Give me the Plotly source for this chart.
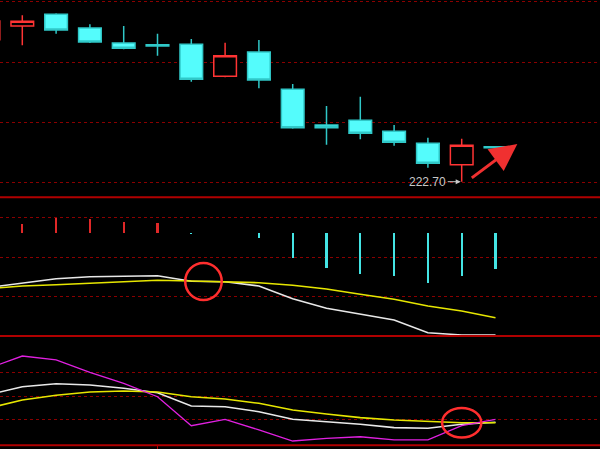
import plotly.graph_objects as go

# ---------------- data ----------------
idx = list(range(16))

open_ = [251.10, 253.84, 256.18, 253.44, 250.44, 250.10, 250.18, 243.78, 248.64, 241.18, 234.04, 234.98, 232.78, 230.38, 226.10, 229.70]
high = [255.40, 255.98, 256.38, 254.18, 253.84, 252.30, 251.24, 250.50, 251.04, 242.24, 237.84, 239.70, 234.04, 231.50, 231.30, 229.70]
low = [250.60, 249.98, 252.30, 250.44, 249.18, 247.90, 242.70, 243.58, 241.38, 233.30, 230.10, 231.18, 229.90, 225.50, 222.70, 228.90]
close = [254.84, 254.78, 253.04, 250.64, 249.38, 249.84, 243.18, 247.90, 243.04, 233.50, 233.50, 232.38, 230.58, 226.38, 229.98, 229.50]

macd_hist = [0.60, 0.88, 1.45, 1.35, 1.05, 0.98, -0.12, -0.01, -0.55, -2.55, -3.55, -4.12, -4.38, -5.02, -4.38, -3.65]
dif = [-5.50, -5.05, -4.62, -4.42, -4.38, -4.32, -4.88, -4.92, -5.35, -6.62, -7.58, -8.18, -8.75, -10.02, -10.25, -10.25]
dea = [-5.61, -5.35, -5.22, -5.08, -4.92, -4.78, -4.85, -4.92, -5.02, -5.28, -5.65, -6.18, -6.68, -7.35, -7.85, -8.52]

k_line = [51.9, 62.2, 66.0, 64.3, 60.2, 54.6, 37.7, 36.8, 30.5, 20.8, 17.8, 14.5, 10.2, 9.4, 14.5, 17.0]
d_line = [35.0, 45.3, 51.3, 55.5, 56.7, 55.5, 49.5, 46.6, 41.1, 32.6, 27.6, 22.9, 19.9, 17.8, 16.5, 16.5]
j_line = [85.6, 101.1, 96.1, 80.4, 66.5, 49.5, 12.7, 20.8, 7.3, -6.7, -3.3, -1.3, -5.4, -5.4, 12.7, 20.8]

price_grid = [258.78, 246.62, 234.58, 222.50]
macd_grid = [1.52, -2.48, -6.42]
kdj_grid = [80, 50, 20]

low_label = "222.70"

# ---------------- styles ----------------
RED = "#ff3434"
CYAN = "#54fcfc"
CYAN_EDGE = "#30c8c8"
GRID = "#8a0000"
SEP = "#b00000"
H = 449.0

fig = go.Figure()

fig.add_trace(go.Candlestick(
    x=idx, open=open_, high=high, low=low, close=close,
    increasing=dict(line=dict(color=RED, width=1.5), fillcolor="#000000"),
    decreasing=dict(line=dict(color=CYAN_EDGE, width=1.5), fillcolor=CYAN),
    xaxis="x", yaxis="y", hoverinfo="skip", showlegend=False,
))

bar_colors = ["#e02828" if v > 0 else "#44e4e4" for v in macd_hist]
fig.add_trace(go.Bar(x=idx, y=macd_hist, width=0.065, marker=dict(color=bar_colors, line=dict(width=0)),
                     xaxis="x", yaxis="y2", showlegend=False, hoverinfo="skip"))
fig.add_trace(go.Scatter(x=idx, y=dif, mode="lines", line=dict(color="#e8e8e8", width=1.6),
                         xaxis="x", yaxis="y2", showlegend=False, hoverinfo="skip"))
fig.add_trace(go.Scatter(x=idx, y=dea, mode="lines", line=dict(color="#e6e600", width=1.6),
                         xaxis="x", yaxis="y2", showlegend=False, hoverinfo="skip"))

fig.add_trace(go.Scatter(x=idx, y=k_line, mode="lines", line=dict(color="#e8e8e8", width=1.6),
                         xaxis="x", yaxis="y3", showlegend=False, hoverinfo="skip"))
fig.add_trace(go.Scatter(x=idx, y=d_line, mode="lines", line=dict(color="#e6e600", width=1.6),
                         xaxis="x", yaxis="y3", showlegend=False, hoverinfo="skip"))
fig.add_trace(go.Scatter(x=idx, y=j_line, mode="lines", line=dict(color="#e020e0", width=1.3),
                         xaxis="x", yaxis="y3", showlegend=False, hoverinfo="skip"))

# pixel geometry: candle i sits at px = X0 + STEP*i
X0, STEP = -11.5, 33.8
x_range = [(0 - X0) / STEP, (600 - X0) / STEP]

def pdom(top_px, bot_px):
    return [1 - bot_px / H, 1 - top_px / H]

def yaxis(dom, rng, ticks):
    return dict(domain=dom, range=rng, tickvals=ticks, showticklabels=False, ticks="",
                showgrid=True, gridcolor=GRID, griddash="dot", gridwidth=1,
                zeroline=False, showline=False, fixedrange=True)

fig.update_layout(
    width=600, height=449,
    margin=dict(l=0, r=0, t=0, b=0),
    paper_bgcolor="#000000", plot_bgcolor="#000000",
    showlegend=False, bargap=0,
    boxgap=0.33, boxgroupgap=0,
    xaxis=dict(range=x_range, showgrid=False, zeroline=False, showticklabels=False, ticks="",
               showline=False, rangeslider=dict(visible=False), anchor="y3", fixedrange=True),
    yaxis=yaxis(pdom(0, 197.3), [219.58, 259.04], price_grid),
    yaxis2=yaxis(pdom(197.3, 336), [-10.35, 3.52], macd_grid),
    yaxis3=yaxis(pdom(336, 445.3), [-12.16, 126.49], kdj_grid),
)

# panel separators
for ypx in [197.3, 336, 445.3]:
    fig.add_shape(type="line", xref="paper", yref="paper", x0=0, x1=1,
                  y0=1 - ypx / H, y1=1 - ypx / H, line=dict(color=SEP, width=2))
# small tick under bottom axis
fig.add_shape(type="line", xref="x", yref="paper", x0=idx[5], x1=idx[5],
              y0=0, y1=1 - 445.3 / H, line=dict(color=SEP, width=1))

# red circles
fig.add_shape(type="circle", xref="x", yref="y2",
              x0=6.36 - 0.54, x1=6.36 + 0.54, y0=-4.90 - 1.85, y1=-4.90 + 1.85,
              line=dict(color="#ff2e2e", width=2.5))
fig.add_shape(type="circle", xref="x", yref="y3",
              x0=idx[14] - 0.58, x1=idx[14] + 0.58, y0=d_line[14] - 18.8, y1=d_line[14] + 18.8,
              line=dict(color="#ff2e2e", width=2.5))

# low-price label
fig.add_annotation(x=idx[14], y=low[14], xref="x", yref="y", text=low_label,
                   showarrow=True, ax=-34, ay=0, arrowcolor="#c8c8c8", arrowwidth=1,
                   arrowhead=2, arrowsize=1, standoff=1,
                   font=dict(family="Liberation Sans, Arial", size=12, color="#c8c8c8"))

# big red arrow
fig.add_annotation(x=15.645, y=230.24, xref="x", yref="y", text="",
                   showarrow=True, ax=-47, ay=35, arrowcolor="#f03030", arrowwidth=3,
                   arrowhead=2, arrowsize=1.8, standoff=0)

fig.write_html("out.html",
               config={"displayModeBar": False, "staticPlot": True},
               post_script="document.body.style.margin='0';document.body.style.background='#000';")
